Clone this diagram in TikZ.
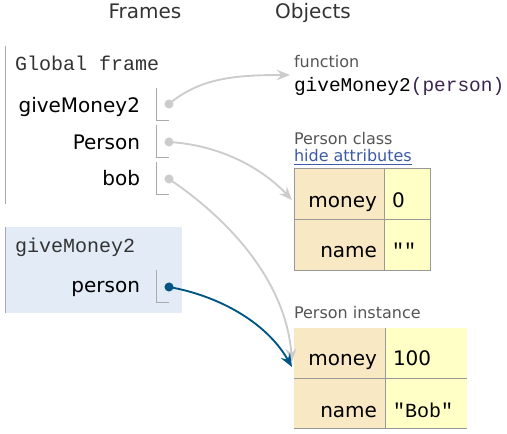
\documentclass[tikz,border=0pt]{standalone}
\usepackage{fontspec}
\setmainfont{DejaVu Sans}
\newfontfamily\monof{Liberation Mono}
\usetikzlibrary{arrows.meta}
\definecolor{hdrcol}{HTML}{333333}
\definecolor{subcol}{HTML}{555555}
\definecolor{framel}{HTML}{AAAAAA}
\definecolor{ptrgray}{HTML}{CCCCCC}
\definecolor{ptrblue}{HTML}{005583}
\definecolor{activebg}{HTML}{E2EBF6}
\definecolor{keybg}{HTML}{F8E8C4}
\definecolor{valbg}{HTML}{FFFFC6}
\definecolor{tabline}{HTML}{999999}
\definecolor{linkcol}{HTML}{3C5AA6}
\definecolor{parcol}{HTML}{3A2650}
\begin{document}
\begin{tikzpicture}[x=0.75pt,y=-0.75pt,
  every node/.style={inner sep=0pt,outer sep=0pt},
  hdr/.style={font=\fontsize{15}{18}\selectfont,text=hdrcol},
  var/.style={font=\fontsize{15}{18}\selectfont,text=black,anchor=base east},
  monot/.style={font=\monof\fontsize{15}{18}\selectfont,text=hdrcol,anchor=base west},
  small/.style={font=\fontsize{12}{14}\selectfont,text=subcol,anchor=base west},
  sepline/.style={draw=framel,line width=0.75pt},
  dotg/.style={circle,fill=ptrgray,minimum size=6.8pt},
  dotb/.style={circle,fill=ptrblue,minimum size=6.8pt},
  ptr/.style={draw=ptrgray,line width=1.4pt,-{Stealth[length=10pt,width=8pt,inset=3.5pt]}},
  ptrb/.style={draw=ptrblue,line width=1.4pt,-{Stealth[length=10pt,width=8pt,inset=3.5pt]}},
  tabl/.style={draw=tabline,line width=0.75pt}
]
\useasboundingbox (0,0) rectangle (507,434);

% headings
\node[hdr,anchor=base] (hframes) at (145,19) {Frames};
\node[hdr,anchor=base] (hobjects) at (313,19) {Objects};

% global frame
\draw[sepline] (5.5,46) -- (5.5,204);
\node[monot] (gtitle) at (15,71) {Global frame};

\node[var] (vgive) at (140,113) {giveMoney2};
\draw[sepline] (156,88) -- (156,121) -- (169,121);
\node[dotg] (dgive) at (169,104) {};

\node[var] (vperson) at (140,150) {Person};
\draw[sepline] (156,125) -- (156,158) -- (169,158);
\node[dotg] (dperson) at (169,142) {};

\node[var] (vbob) at (140,186) {bob};
\draw[sepline] (156,162) -- (156,195) -- (169,195);
\node[dotg] (dbob) at (169,179) {};

% active frame
\fill[activebg] (5,227) rectangle (182,313);
\draw[sepline] (5.5,227) -- (5.5,313);
\node[monot] (ftitle) at (15,253) {giveMoney2};
\node[var] (vp) at (140,293) {person};
\draw[sepline] (156,270) -- (156,303) -- (169,303);

% function object
\node[small] (lfunc) at (294,68) {function};
\node[monot,text=black,font=\monof\fontsize{14.6}{18}\selectfont] (fsig) at (294,92) {giveMoney2\textcolor{parcol}{(person)}};
\coordinate (tfunc) at (290,75);

% Person class
\node[small] (lclass) at (294,145) {Person class};
\node[small,text=linkcol] (lhide) at (294,162) {\underline{hide attributes}};
\fill[keybg] (294,169) rectangle (384,271);
\fill[valbg] (384,169) rectangle (430,271);
\draw[tabl] (294,169) rectangle (430,271);
\draw[tabl] (384,169) -- (384,271);
\draw[tabl] (294,220) -- (430,220);
\node[var] (ck1) at (377,208) {money};
\node[var,anchor=base west] (cv1) at (392,208) {0};
\node[var] (ck2) at (377,258) {name};
\node[monot,text=black] (cv2) at (392,258) {""};
\coordinate (tclass) at (292,200);

% Person instance
\node[small] (linst) at (294,319) {Person instance};
\fill[keybg] (294,328) rectangle (385,429);
\fill[valbg] (385,328) rectangle (467,429);
\draw[tabl] (385,328) -- (385,429);
\draw[tabl] (294,378.5) -- (467,378.5);
\draw[tabl] (294,428.5) -- (467,428.5);
\node[var] (ik1) at (377,366) {money};
\node[var,anchor=base west] (iv1) at (393,366) {100};
\node[var] (ik2) at (377,418) {name};
\node[monot,text=black] (iv2) at (393,418) {"Bob"};
\coordinate (tinstg) at (292,362);
\coordinate (tinstb) at (292,367);

% pointers
\draw[ptr] (dgive.center) .. controls (200,78) and (235,75) .. (tfunc);
\draw[ptr] (dperson.center) .. controls (220,145) and (262,168) .. (tclass);
\draw[ptr] (dbob.center) .. controls (230,220) and (286,282) .. (tinstg);
\node[dotb] (dp) at (169,287) {};
\draw[ptrb] (dp.center) .. controls (215,295) and (265,320) .. (tinstb);
\end{tikzpicture}
\end{document}
